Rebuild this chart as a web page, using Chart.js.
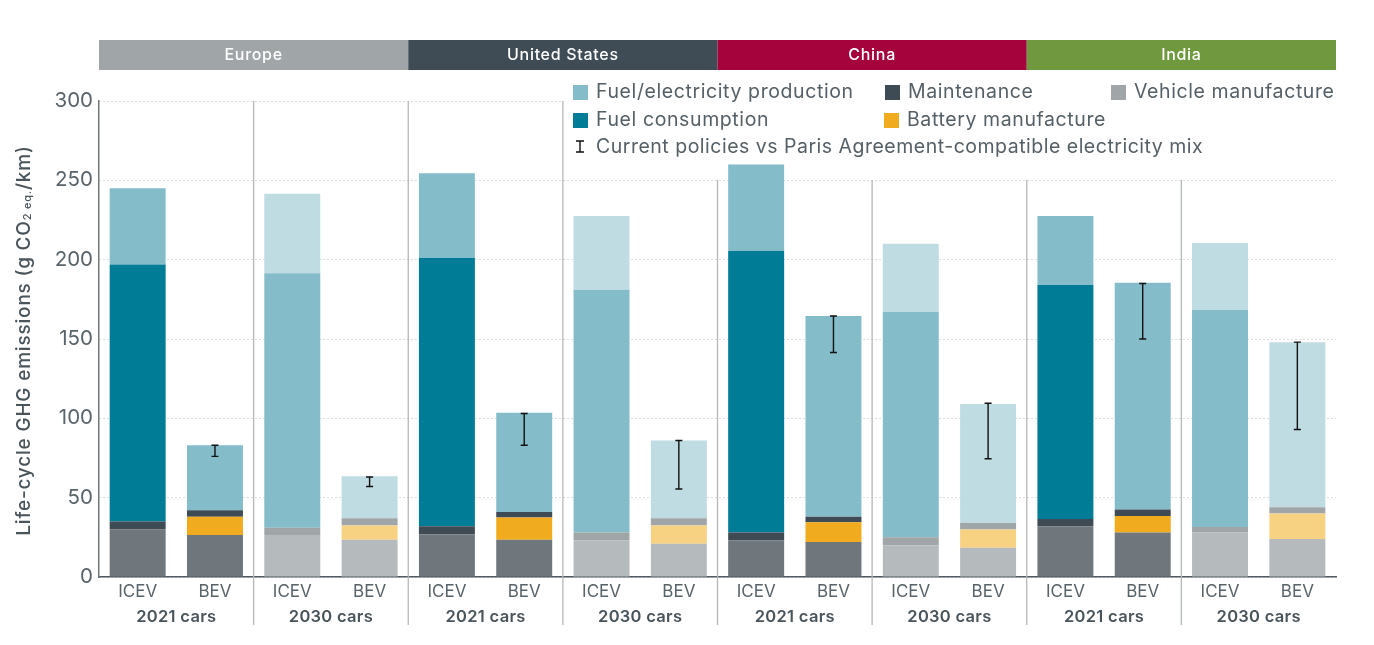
<!DOCTYPE html>
<html>
<head>
<meta charset="utf-8">
<script src="https://cdn.jsdelivr.net/npm/chart.js@4/dist/chart.umd.min.js"></script>
<style>
html,body{margin:0;padding:0;background:#fff;}
canvas{display:block;}
</style>
</head>
<body>
<canvas id="chart" width="1374" height="645"></canvas>
<script>
const FONT = "Inter, 'Open Sans', sans-serif";

const cars = ["ICEV","BEV","ICEV","BEV","ICEV","BEV","ICEV","BEV","ICEV","BEV","ICEV","BEV","ICEV","BEV","ICEV","BEV"];
const years = ["2021 cars","2030 cars","2021 cars","2030 cars","2021 cars","2030 cars","2021 cars","2030 cars"];
const regions = ["Europe","United States","China","India"];
const regionColors = ["#a0a5a8","#3f4c55","#a4033b","#6f983f"];

// values in g CO2 eq./km
const vehicle     = [30,26.5,26,23.5, 27,23.5,23,21, 23,22,20,18.5, 32,28,28,24];
const battery     = [0,11.5,0,9, 0,14,0,11.5, 0,12.5,0,11.5, 0,10.5,0,16];
const maintenance = [5,4,5,4.5, 5,3.5,5,4.5, 5,3.5,5,4, 4.5,4,3.5,4];
const consumption = [162,0,160.5,0, 169,0,153,0, 177.5,0,142,0, 147.5,0,137,0];
const production  = [48,41,50,26.5, 53.5,62.5,46.5,49, 54.5,126.5,43,75, 43.5,143,42,104];

// error bars: [low, high] for the BEV bars only
const errLow  = [null,76,null,57, null,83,null,55.5, null,141.5,null,74.5, null,150,null,93];
const errHigh = [null,83,null,63, null,103,null,86, null,164.5,null,109.5, null,185,null,148];

// colours, 2021 bars / 2030 bars
const vehicleColors = ["#6f777d","#b5babc"];
const batteryColors = ["#f0ac1e","#f8d283"];
const maintColors   = ["#3f4b54","#a0a5a8"];
const consColors    = ["#007c96","#84bdc9"];
const prodColors    = ["#84bdc9","#bfdce2"];
const legendItems = [
  ["Fuel/electricity production","#84bdc9",573,92.5],
  ["Maintenance","#3f4b54",885,92.5],
  ["Vehicle manufacture","#a0a5a8",1111,92.5],
  ["Fuel consumption","#007c96",573,120.5],
  ["Battery manufacture","#f0ac1e",884,120.5]
];

// second half of each region pair is the 2030 group
function shade(pair){
  return ctx => pair[Math.floor(ctx.dataIndex/2)%2];
}
function ds(label,data,pair){
  return {label:label,data:data,backgroundColor:shade(pair),stack:"a",barPercentage:0.724,categoryPercentage:1,borderWidth:0};
}

const overlay = {
  id:"overlay",
  beforeDatasetsDraw(chart){
    const c = chart.ctx, x = chart.scales.x, y = chart.scales.y, a = chart.chartArea;
    const band = (a.right-a.left)/cars.length;
    c.save();
    // group separators
    c.strokeStyle = "#b4b8bb"; c.lineWidth = 1.3;
    for(let i=2;i<cars.length;i+=2){
      const px = x.getPixelForValue(i)-band/2;
      c.beginPath(); c.moveTo(px,y.getPixelForValue(300)); c.lineTo(px,625); c.stroke();
    }
    // legend background hides grid and separators, bars stay on top
    c.fillStyle = "#fff";
    c.fillRect(564,78,780,102);
    c.restore();
  },
  afterDraw(chart){
    const c = chart.ctx, x = chart.scales.x, y = chart.scales.y, a = chart.chartArea;
    const band = (a.right-a.left)/cars.length;
    c.save();

    // error bars
    c.strokeStyle = "#111"; c.lineWidth = 1.4;
    errLow.forEach((lo,i)=>{
      if(lo===null) return;
      const px = x.getPixelForValue(i), p1 = y.getPixelForValue(lo), p2 = y.getPixelForValue(errHigh[i]);
      c.beginPath();
      c.moveTo(px,p1); c.lineTo(px,p2);
      c.moveTo(px-3.5,p1); c.lineTo(px+3.5,p1);
      c.moveTo(px-3.5,p2); c.lineTo(px+3.5,p2);
      c.stroke();
    });

    // region strip
    c.textAlign = "center"; c.textBaseline = "middle";
    c.font = "500 16px "+FONT;
    c.letterSpacing = "0.7px";
    regions.forEach((r,i)=>{
      const x0 = x.getPixelForValue(i*4)-band/2, x1 = x.getPixelForValue(i*4+3)+band/2;
      c.fillStyle = regionColors[i];
      c.fillRect(x0,40,x1-x0,30);
      c.fillStyle = "#fff";
      c.fillText(r,(x0+x1)/2,55.5);
    });

    // year labels
    c.fillStyle = "#4a545b";
    c.font = "600 16.5px "+FONT;
    c.letterSpacing = "0.3px";
    years.forEach((t,i)=>{
      const px = (x.getPixelForValue(i*2)+x.getPixelForValue(i*2+1))/2;
      c.fillText(t,px,617.5);
    });

    // legend
    c.textAlign = "left";
    c.font = "400 19.5px "+FONT;
    c.letterSpacing = "0.6px";
    legendItems.forEach(it=>{
      c.fillStyle = it[1];
      c.fillRect(it[2],it[3]-7.5,15,15);
      c.fillStyle = "#555f66";
      c.fillText(it[0],it[2]+23,it[3]);
    });
    c.strokeStyle = "#111"; c.lineWidth = 1.4;
    c.beginPath();
    c.moveTo(580,141); c.lineTo(580,152);
    c.moveTo(576,141); c.lineTo(584,141);
    c.moveTo(576,152); c.lineTo(584,152);
    c.stroke();
    c.fillStyle = "#555f66";
    c.letterSpacing = "0.5px";
    c.fillText("Current policies vs Paris Agreement-compatible electricity mix",596,147);

    // y axis title with subscript
    c.translate(24,340.5);
    c.rotate(-Math.PI/2);
    const parts = [["Life-cycle GHG emissions (g CO","500 19px "+FONT,0],["2 eq.","500 11px "+FONT,4],["/km)","500 19px "+FONT,0]];
    c.letterSpacing = "0.8px";
    let w = 0;
    parts.forEach(p=>{c.font=p[1];w+=c.measureText(p[0]).width;});
    let tx = -w/2;
    c.fillStyle = "#4a545b";
    parts.forEach(p=>{
      c.font = p[1];
      c.fillText(p[0],tx,p[2]);
      tx += c.measureText(p[0]).width;
    });
    c.restore();
  }
};

new Chart(document.getElementById("chart"),{
  type:"bar",
  data:{
    labels:cars,
    datasets:[
      ds("Vehicle manufacture",vehicle,vehicleColors),
      ds("Battery manufacture",battery,batteryColors),
      ds("Maintenance",maintenance,maintColors),
      ds("Fuel consumption",consumption,consColors),
      ds("Fuel/electricity production",production,prodColors)
    ]
  },
  options:{
    responsive:false,
    animation:false,
    devicePixelRatio:1,
    layout:{padding:{left:0,top:101,right:38,bottom:0}},
    plugins:{legend:{display:false},title:{display:false},tooltip:{enabled:false}},
    scales:{
      x:{
        stacked:true,
        afterFit(s){s.height=68;},
        grid:{display:false,drawTicks:false},
        border:{display:true,color:"#4f5a61",width:1.5},
        ticks:{color:"#59636a",font:{family:FONT,size:17},padding:5,maxRotation:0,autoSkip:false}
      },
      y:{
        stacked:true,
        min:0,max:300,
        afterFit(s){s.width=99;},
        ticks:{stepSize:50,color:"#59636a",font:{family:FONT,size:20.5},padding:6},
        grid:{color:"#b4b8bb",lineWidth:1,drawTicks:false},
        border:{display:true,color:"#6f777d",width:1.5,dash:[1,3]}
      }
    }
  },
  plugins:[overlay]
});
</script>
</body>
</html>
